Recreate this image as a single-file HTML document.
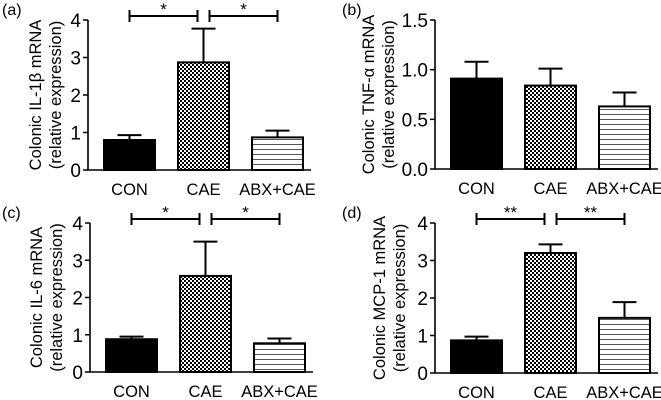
<!DOCTYPE html>
<html><head><meta charset="utf-8"><style>
body{margin:0;background:#fff}
svg{display:block;font-family:"Liberation Sans",sans-serif}
</style></head><body>
<svg id="chart" width="661" height="400" viewBox="0 0 661 400">
<defs>
<pattern id="checker" width="4" height="4" patternUnits="userSpaceOnUse"><rect width="4" height="4" fill="#fff"/><rect width="2" height="2" fill="#000"/><rect x="2" y="2" width="2" height="2" fill="#000"/></pattern>
<pattern id="hlines" width="6" height="5" patternUnits="userSpaceOnUse"><rect width="6" height="5" fill="#fff"/><rect y="4" width="6" height="1" fill="#555"/></pattern>
</defs>
</svg>
<script>
const categories = ["CON","CAE","ABX+CAE"];
const valuesA = [0.80, 2.87, 0.87], errA = [0.13, 0.90, 0.18];
const valuesB = [0.91, 0.84, 0.63], errB = [0.17, 0.17, 0.14];
const valuesC = [0.88, 2.58, 0.77], errC = [0.07, 0.92, 0.13];
const valuesD = [0.87, 3.20, 1.47], errD = [0.10, 0.23, 0.42];
const ticksA = ["0","1","2","3","4"];
const ticksB = ["0.0","0.5","1.0","1.5"];
const sigA = ["*","*"], sigC = ["*","*"], sigD = ["**","**"];

const NS = "http://www.w3.org/2000/svg";
const svg = document.getElementById('chart');
function mk(tag, attrs, parent, text){
  const e = document.createElementNS(NS, tag);
  for (const k in attrs) e.setAttribute(k, attrs[k]);
  if (text !== undefined) e.textContent = text;
  (parent || svg).appendChild(e);
  return e;
}
const fills = ["#000","url(#checker)","url(#hlines)"];

function panel(p){
  const g = mk('g', {});
  
  
  const yMax = parseFloat(p.ticks[p.ticks.length-1]);
  const ys = v => p.y0 - (v / yMax) * (p.y0 - p.yTop);
  const bw = 51, step = 74;
  const xs = i => p.ax + 16 + i * step;
  const lt = mk('text', {x: p.lx, y: p.yTop - 5, 'font-size': 16}, g, '(' + p.id + ')');
  
  
  const yt = mk('text', {transform: `translate(${p.ax - p.toff},${(p.y0 + p.yTop)/2}) rotate(-90)`, 'text-anchor': 'middle', 'font-size': 16.5}, g);
  
  
  mk('tspan', {x: 0, dy: 0}, yt, p.title);
  mk('tspan', {x: 0, dy: 20}, yt, '(relative expression)');
  const axis = mk('path', {d: `M${p.ax},${p.yTop} V${p.y0} H${p.ax + 16 + 2*step + bw + 8}`, stroke: '#000', 'stroke-width': 1.6, fill: 'none'}, g);
  
  
  p.ticks.forEach(t => {
    const y = ys(parseFloat(t));
    mk('line', {x1: p.ax - 5, x2: p.ax, y1: y, y2: y, stroke: '#000', 'stroke-width': 1.5}, g);
    const tl = mk('text', {x: p.ax - 7, y: y + 7, 'text-anchor': 'end', 'font-size': 19}, g, t);
    
    
  });
  p.vals.forEach((v, i) => {
    const x = xs(i), yv = ys(v), ye = ys(v + p.err[i]), cx = x + bw/2;
    mk('line', {x1: cx, x2: cx, y1: yv, y2: ye, stroke: '#000', 'stroke-width': 2}, g);
    mk('line', {x1: cx - 12, x2: cx + 12, y1: ye, y2: ye, stroke: '#000', 'stroke-width': 2}, g);
    const r = mk('rect', {x: x, y: yv, width: bw, height: p.y0 - yv, fill: fills[i], stroke: '#000', 'stroke-width': 2}, g);
    
    
    const xl = mk('text', {x: cx, y: p.y0 + 25, 'text-anchor': 'middle', 'font-size': 16.5}, g, categories[i]);
    
    
  });
  if (p.sig){
    const by = p.yTop - 4;
    const c = [xs(0)+bw/2, xs(1)+bw/2, xs(2)+bw/2];
    [[c[0], c[1]-6], [c[1]+6, c[2]]].forEach((s, k) => {
      const br = mk('path', {d: `M${s[0]},${by-6} V${by+6} M${s[0]},${by} H${s[1]} M${s[1]},${by-6} V${by+6}`, stroke: '#000', 'stroke-width': 2, fill: 'none'}, g);
      
      
      const st = mk('text', {x: (s[0]+s[1])/2, y: by - 1, 'text-anchor': 'middle', 'font-size': 17}, g, p.sig[k]);
      
      
    });
  }
}
panel({id:'a', ax:88, toff:47, y0:170, yTop:20, lx:2, ticks:ticksA, vals:valuesA, err:errA, sig:sigA, title:'Colonic IL-1\u03B2 mRNA'});
panel({id:'b', ax:435, toff:61, y0:169, yTop:20, lx:342, ticks:ticksB, vals:valuesB, err:errB, sig:null, title:'Colonic TNF-\u03B1 mRNA'});
panel({id:'c', ax:90, toff:48, y0:372, yTop:223, lx:2, ticks:ticksA, vals:valuesC, err:errC, sig:sigC, title:'Colonic IL-6 mRNA'});
panel({id:'d', ax:435, toff:50, y0:373, yTop:223, lx:342, ticks:ticksA, vals:valuesD, err:errD, sig:sigD, title:'Colonic MCP-1 mRNA'});
</script>
</body></html>
